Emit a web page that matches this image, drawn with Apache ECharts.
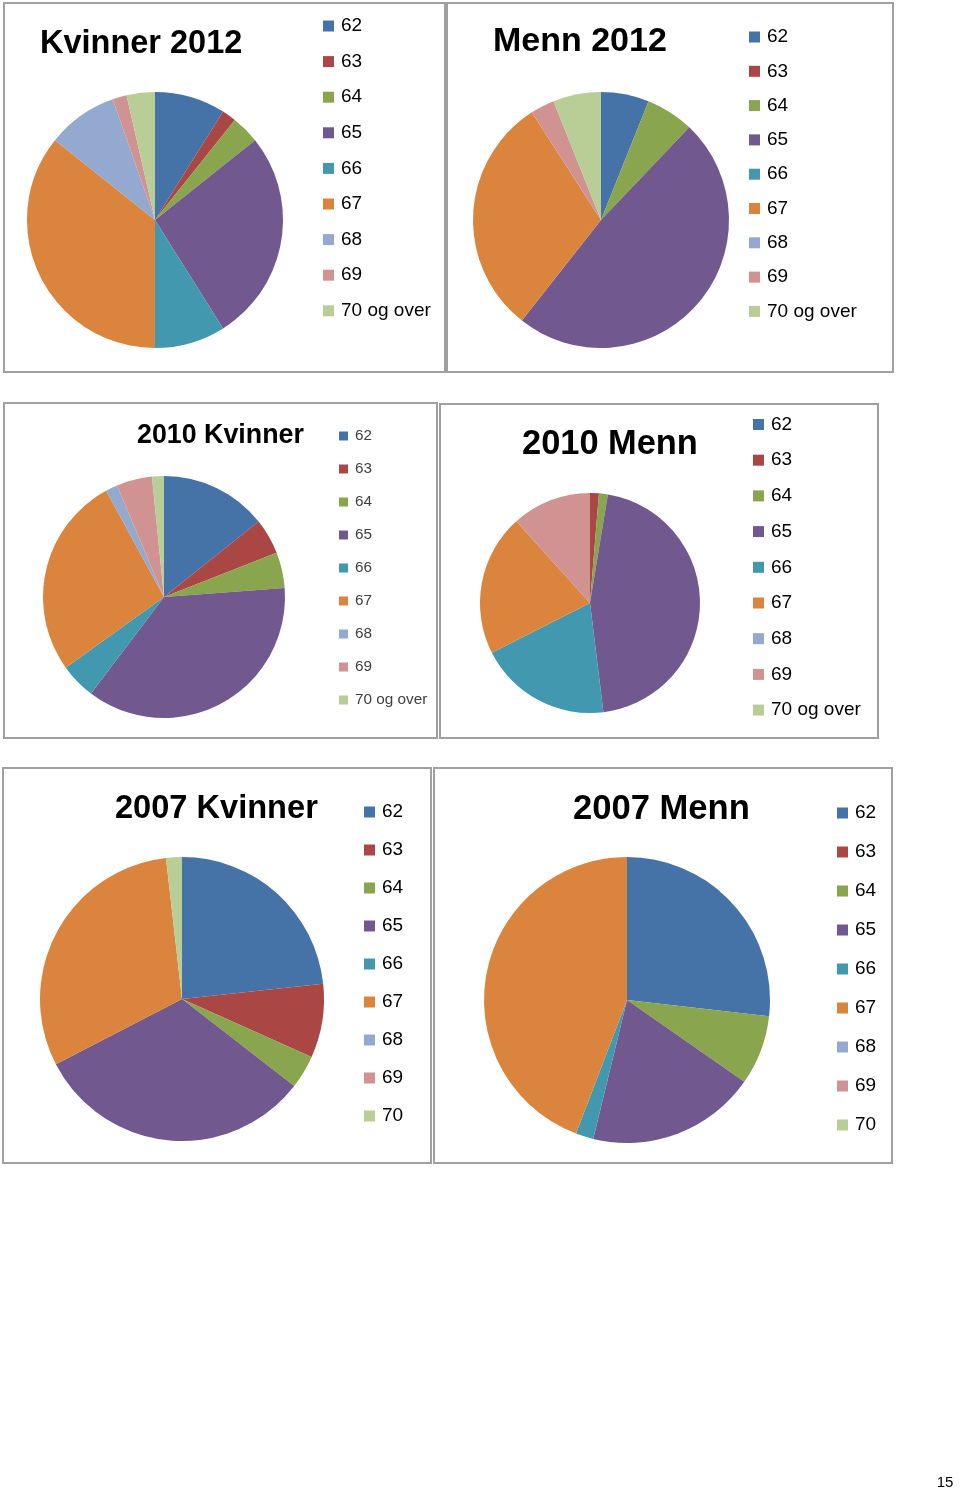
<!DOCTYPE html>
<html>
<head>
<meta charset="utf-8">
<script src="https://cdn.jsdelivr.net/npm/echarts@6/dist/echarts.min.js"></script>
<style>
html,body{margin:0;padding:0;background:#fff;}
#chart{width:960px;height:1491px;}
</style>
</head>
<body>
<div id="chart"></div>
<script>
// Categories
const cats12 = ['62','63','64','65','66','67','68','69','70 og over'];
const cats07 = ['62','63','64','65','66','67','68','69','70'];
// Values
const kvinner2012 = [5, 1, 2, 15, 5, 20, 5, 1, 2];
const menn2012    = [2, 0, 2, 16, 0, 10, 0, 1, 2];
const kvinner2010 = [9, 3, 3, 23, 3, 17, 1, 3, 1];
const menn2010    = [0, 1, 1, 35, 15, 16, 0, 9, 0];
const kvinner2007 = [23.3, 8.4, 3.8, 31.9, 0, 30.8, 0, 0, 1.8];
const menn2007    = [26.8, 0, 7.9, 19.1, 2.0, 44.2, 0, 0, 0];
const titles = ['Kvinner 2012','Menn 2012','2010 Kvinner','2010 Menn','2007 Kvinner','2007 Menn'];
const pageNumber = '15';

const colors = ['#4572A7','#AA4643','#89A54E','#71588F','#4198AF','#DB843D','#93A9CF','#D19392','#B9CD96'];
const FONT = '"Liberation Sans", Arial, sans-serif';

const panels = [
  {cats: cats12, vals: kvinner2012, center:[155,220], r:128,
   box:[4,3,441,369], title:{x:40,y:44,size:32.5},
   legend:{x:323,y:26,gap:35.6,size:19}},
  {cats: cats12, vals: menn2012, center:[601,220], r:128,
   box:[447,3,446,369], title:{x:493,y:42,size:34},
   legend:{x:749,y:37,gap:34.3,size:19}},
  {cats: cats12, vals: kvinner2010, center:[164,597], r:121,
   box:[4,403,433,335], title:{x:137,y:436,size:26.8},
   legend:{x:339,y:436,gap:33,size:15.3, color:'#404040', icon:9}},
  {cats: cats12, vals: menn2010, center:[590,603], r:110,
   box:[440,404,438,334], title:{x:522,y:445,size:34.4},
   legend:{x:753,y:424.5,gap:35.7,size:19}},
  {cats: cats07, vals: kvinner2007, center:[182,999], r:142,
   box:[3,768,428,395], title:{x:115,y:809,size:32.6},
   legend:{x:364,y:812,gap:38,size:19}},
  {cats: cats07, vals: menn2007, center:[627,1000], r:143,
   box:[434,768,458,395], title:{x:573,y:809,size:34.6},
   legend:{x:837,y:813,gap:39,size:19}}
];

const chart = echarts.init(document.getElementById('chart'), null, {renderer:'canvas'});

const title = [];
const legend = [];
const series = [];
const graphic = [];

panels.forEach((p, i) => {
  graphic.push({
    type:'rect', shape:{x:p.box[0], y:p.box[1], width:p.box[2], height:p.box[3]},
    style:{fill:'none', stroke:'#a0a0a0', lineWidth:2}, silent:true, z:-1
  });
  title.push({
    text: titles[i], left: p.title.x, top: p.title.y - p.title.size/2, padding:0,
    textStyle:{fontFamily:FONT, fontWeight:'bold', fontSize:p.title.size, color:'#000', lineHeight:p.title.size}
  });
  const ih = p.legend.icon || 11;
  legend.push({
    orient:'vertical', left:p.legend.x, top:p.legend.y - 10, padding:0,
    itemWidth: ih, itemHeight: ih, itemGap: p.legend.gap - 20, icon:'rect',
    selectedMode:false, data: p.cats.slice(),
    textStyle:{fontFamily:FONT, fontSize:p.legend.size, color:p.legend.color || '#000', lineHeight:20, padding:[0,0,0,2]}
  });
  series.push({
    type:'pie', center:p.center, radius:p.r, startAngle:90, clockwise:true,
    animation:false, silent:true, avoidLabelOverlap:false,
    label:{show:false}, labelLine:{show:false},
    itemStyle:{borderWidth:0},
    emphasis:{disabled:true},
    data: p.cats.map((c, k) => ({name:c, value:p.vals[k], itemStyle:{color:colors[k]}}))
  });
});

graphic.push({
  type:'text', x:945, y:1483,
  style:{text:pageNumber, font:'15px "Liberation Sans", Arial, sans-serif', fill:'#000', textAlign:'center', textVerticalAlign:'middle'}
});

chart.setOption({
  backgroundColor:'#fff',
  animation:false,
  color: colors,
  title, legend, series, graphic
});
</script>
</body>
</html>
